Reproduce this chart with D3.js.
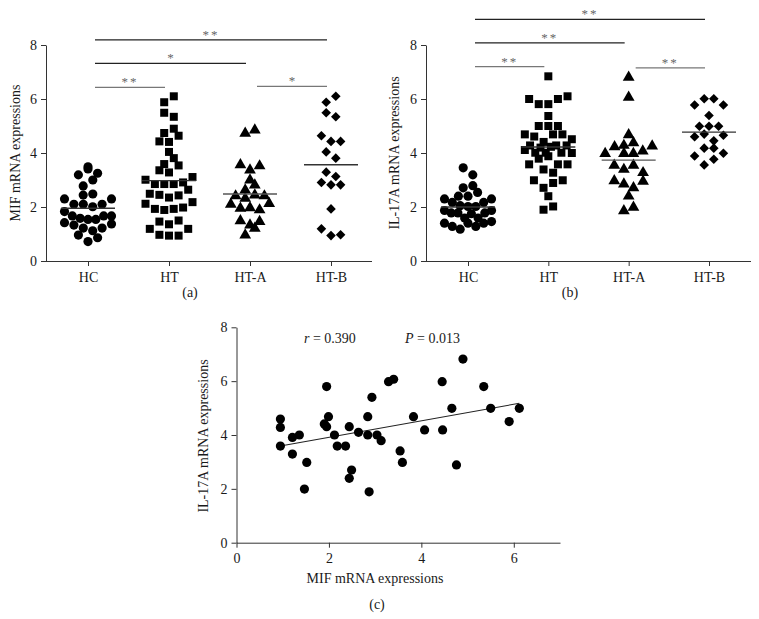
<!DOCTYPE html>
<html><head><meta charset="utf-8">
<script src="https://cdn.jsdelivr.net/npm/d3@7"></script>
<style>
body{margin:0;background:#fff;}
text{font-family:"Liberation Serif","DejaVu Serif",serif;}
</style>
</head><body>
<svg id="chart" width="759" height="619"></svg>
<script>
// ---------- DATA ----------
const categories = ["HC", "HT", "HT-A", "HT-B"];
const yTicks = [0, 2, 4, 6, 8];
const xTicksC = [0, 2, 4, 6];

// Panel (a): MIF mRNA expressions (listed roughly left-to-right as in the plot)
const mifHC = [1.83,1.42,2.30,1.67,2.10,1.33,3.19,2.78,0.96,1.58,3.41,2.10,1.22,3.0,2.44,1.54,0.72,3.49,2.01,1.12,1.54,2.48,0.86,3.25,2.10,1.22,1.67,2.30,1.37,1.67];
const mifHT = [3.01,2.12,2.49,1.19,4.74,3.59,2.85,1.93,2.45,1.46,0.97,5.88,5.49,4.43,3.81,3.36,2.85,1.89,4.90,2.35,1.36,0.94,6.10,5.34,4.41,4.04,3.28,2.85,1.93,2.43,1.50,0.94,2.91,1.98,3.54,4.64,2.64,1.19,3.11,2.18];
const mifHTA = [2.41,1.49,2.32,2.63,1.33,2.10,4.73,3.56,3.0,2.44,1.95,1.46,0.96,4.85,3.37,1.97,3.52,2.81,1.89,1.21,2.13,2.41];
const mifHTB = [3.29,5.88,4.64,1.19,2.91,5.49,4.04,4.43,2.82,1.93,0.94,6.10,5.34,3.81,2.82,4.43,0.97,3.13];

// Panel (b): IL-17A mRNA expressions
const ilHC = [1.87,2.30,1.40,2.71,2.17,1.78,2.05,1.28,3.45,2.40,1.78,1.59,1.18,2.79,2.02,1.40,3.19,2.40,1.75,1.59,1.28,1.40,2.02,2.54,1.78,2.17,1.46,2.30,1.87];
const ilHT = [4.11,6.0,4.69,4.28,3.58,4.01,5.81,5.0,4.61,4.20,3.39,2.99,4.41,4.01,2.71,1.90,6.84,5.81,5.37,5.0,4.23,3.79,3.27,2.89,2.40,2.02,4.69,6.0,5.0,4.28,3.88,3.58,2.99,4.69,4.01,4.28,6.10,3.58,4.51,4.0];
const ilHTA = [4.28,2.97,2.85,3.54,3.98,4.23,2.71,1.86,3.98,6.80,6.06,4.67,3.39,3.98,4.38,2.95,1.99,4.07,3.54,2.40,4.26,3.27];
const ilHTB = [4.99,4.60,3.89,5.78,4.99,6.01,4.18,3.56,5.39,4.70,4.45,3.77,6.01,4.66,5.78,4.18,3.99,4.99];

// significance brackets: [from, to, level(value units), label]
const sigA = [["HC","HT-B",8.19,"**"],["HC","HT-A",7.32,"*"],["HC","HT",6.43,"**"],["HT-A","HT-B",6.47,"*"]];
const sigB = [["HC","HT-B",8.95,"**"],["HC","HT-A",8.08,"**"],["HC","HT",7.20,"**"],["HT-A","HT-B",7.15,"**"]];

// Panel (c): correlation MIF (x) vs IL-17A (y)
const corrX = [0.95,0.95,0.95,1.21,1.36,1.21,1.47,1.52,1.95,1.90,1.99,1.95,2.12,2.18,2.36,2.44,2.44,2.49,2.64,2.84,2.84,2.87,2.93,3.04,3.13,3.29,3.40,3.54,3.59,3.83,4.07,4.45,4.46,4.66,4.76,4.90,5.35,5.50,5.90,6.12];
const corrY = [4.59,4.28,3.59,3.91,4.00,3.29,1.99,2.98,5.80,4.41,4.68,4.31,4.00,3.59,3.59,4.31,2.39,2.70,4.10,4.68,4.00,1.89,5.40,4.00,3.79,5.98,6.07,3.41,2.98,4.68,4.19,5.98,4.19,4.99,2.89,6.82,5.80,4.99,4.50,4.99];
const corrR = "0.390", corrP = "0.013";

// ---------- DRAWING ----------
const svg = d3.select("#chart");
svg.append("rect").attr("width",759).attr("height",619).attr("fill","#fff");
const FS = 14;
const INK = "#1a1a1a";

// Prism-like column scatter: group values into horizontal rows, spread each row
function rowLayout(values, y, rowH, step, maxW) {
  const idx = values.map((v,i) => i).sort((a,b) => values[a] - values[b] || a - b);
  const rows = [];
  let cur = null;
  idx.forEach(i => {
    if (!cur || values[i] - cur.start > rowH) { cur = {start: values[i], items: []}; rows.push(cur); }
    cur.items.push(i);
  });
  const out = [];
  rows.forEach(r => {
    const items = r.items.slice().sort((a,b) => a - b);
    const n = items.length;
    const s = n > 1 ? Math.min(step, maxW/(n-1)) : 0;
    items.forEach((i,k) => out.push({v: values[i], y: y(values[i]), dx: (k - (n-1)/2) * s}));
  });
  return out;
}

const symbols = [d3.symbolCircle, d3.symbolSquare, d3.symbolTriangle, d3.symbolSquare];
const symSizes = [66, 64, 60, 46];
const symRot = [0, 0, 0, 45];

function styleAxis(a) {
  a.selectAll("line,path").attr("stroke","#333");
  a.selectAll("text").attr("font-size",FS).attr("fill",INK).style("font-family","Liberation Serif");
}

function dotPanel(cfg) {
  const g = svg.append("g");
  const y = d3.scaleLinear().domain([0,8]).range([261, 45]);
  const x = d3.scalePoint().domain(categories).range(cfg.xr);
  const ya = g.append("g").attr("transform",`translate(${cfg.ax},0)`)
    .call(d3.axisLeft(y).tickValues(yTicks).tickFormat(d3.format("d")).tickSize(5).tickSizeOuter(0).tickPadding(4));
  styleAxis(ya);
  const xa = g.append("g").attr("transform",`translate(0,${y(0)})`)
    .call(d3.axisBottom(x).tickSize(5).tickSizeOuter(0).tickPadding(6));
  xa.select("path").attr("d",`M${cfg.ax},0.5H${cfg.xend}`);
  styleAxis(xa);
  g.append("text").attr("transform",`translate(${cfg.labX},153) rotate(-90)`)
    .attr("text-anchor","middle").attr("font-size",FS).attr("fill",INK).text(cfg.ylabel);
  cfg.groups.forEach((vals, gi) => {
    const cx = x(categories[gi]);
    const pts = rowLayout(vals, y, 0.3, 9.6, 47);
    g.selectAll(null).data(pts).enter().append("path")
      .attr("d", d3.symbol().type(symbols[gi]).size(symSizes[gi]))
      .attr("transform", d => `translate(${cx + d.dx},${d.y}) rotate(${symRot[gi]})`)
      .attr("fill","#000");
    const m = d3.mean(vals);
    g.append("line").attr("x1",cx-27).attr("x2",cx+27).attr("y1",y(m)).attr("y2",y(m))
      .attr("stroke", gi===2 ? "#555" : "#333").attr("stroke-width",1.4);
  });
  cfg.sig.forEach((s, i) => {
    const x1 = x(s[0]) + 7, x2 = x(s[1]) - 4, yy = y(s[2]);
    const col = i < 2 ? "#222" : "#777";
    g.append("line").attr("x1",x1).attr("x2",x2).attr("y1",yy).attr("y2",yy)
      .attr("stroke",col).attr("stroke-width",1.2);
    g.append("text").attr("x",(x1+x2)/2).attr("y",yy-1).attr("text-anchor","middle")
      .attr("font-size",13).attr("fill","#666").attr("letter-spacing", s[3].length>1?2:0).text(s[3]);
  });
  g.append("text").attr("x",cfg.capX).attr("y",297).attr("text-anchor","middle")
    .attr("font-size",FS).attr("fill",INK).text(cfg.cap);
}

dotPanel({ax:46, xr:[88,331], xend:372, labX:20, ylabel:"MIF mRNA expressions",
  groups:[mifHC,mifHT,mifHTA,mifHTB], sig:sigA, cap:"(a)", capX:190});
dotPanel({ax:426, xr:[468,709], xend:751, labX:399, ylabel:"IL-17A mRNA expressions",
  groups:[ilHC,ilHT,ilHTA,ilHTB], sig:sigB, cap:"(b)", capX:570});

// Panel (c)
(function(){
  const g = svg.append("g");
  const x = d3.scaleLinear().domain([0,7]).range([236.5, 560]);
  const y = d3.scaleLinear().domain([0,8]).range([542.7, 327.3]);
  const ya = g.append("g").attr("transform","translate(236.5,0)")
    .call(d3.axisLeft(y).tickValues(yTicks).tickFormat(d3.format("d")).tickSize(5).tickSizeOuter(0).tickPadding(4));
  const xa = g.append("g").attr("transform","translate(0,542.7)")
    .call(d3.axisBottom(x).tickValues(xTicksC).tickFormat(d3.format("d")).tickSize(5).tickSizeOuter(0).tickPadding(5));
  styleAxis(ya); styleAxis(xa);
  g.append("text").attr("transform","translate(208,436) rotate(-90)").attr("text-anchor","middle")
    .attr("font-size",FS).attr("fill",INK).text("IL-17A mRNA expressions");
  g.append("text").attr("x",375).attr("y",583).attr("text-anchor","middle")
    .attr("font-size",FS).attr("fill",INK).text("MIF mRNA expressions");
  g.append("text").attr("x",377).attr("y",609).attr("text-anchor","middle")
    .attr("font-size",FS).attr("fill",INK).text("(c)");
  const mx = d3.mean(corrX), my = d3.mean(corrY);
  let sxy = 0, sxx = 0;
  corrX.forEach((v,i) => { sxy += (v-mx)*(corrY[i]-my); sxx += (v-mx)*(v-mx); });
  const b = sxy/sxx, a0 = my - b*mx;
  const [xmin, xmax] = d3.extent(corrX);
  g.append("line").attr("x1",x(xmin)).attr("x2",x(xmax)).attr("y1",y(a0+b*xmin)).attr("y2",y(a0+b*xmax))
    .attr("stroke","#222").attr("stroke-width",1.1);
  g.selectAll(null).data(corrX).enter().append("circle")
    .attr("cx", d => x(d)).attr("cy", (d,i) => y(corrY[i])).attr("r",4.6).attr("fill","#000");
  const t1 = g.append("text").attr("x",304).attr("y",343).attr("font-size",FS).attr("fill",INK);
  t1.append("tspan").attr("font-style","italic").text("r");
  t1.append("tspan").text(" = " + corrR);
  const t2 = g.append("text").attr("x",405).attr("y",343).attr("font-size",FS).attr("fill",INK);
  t2.append("tspan").attr("font-style","italic").text("P");
  t2.append("tspan").text(" = " + corrP);
})();
</script>
</body></html>
